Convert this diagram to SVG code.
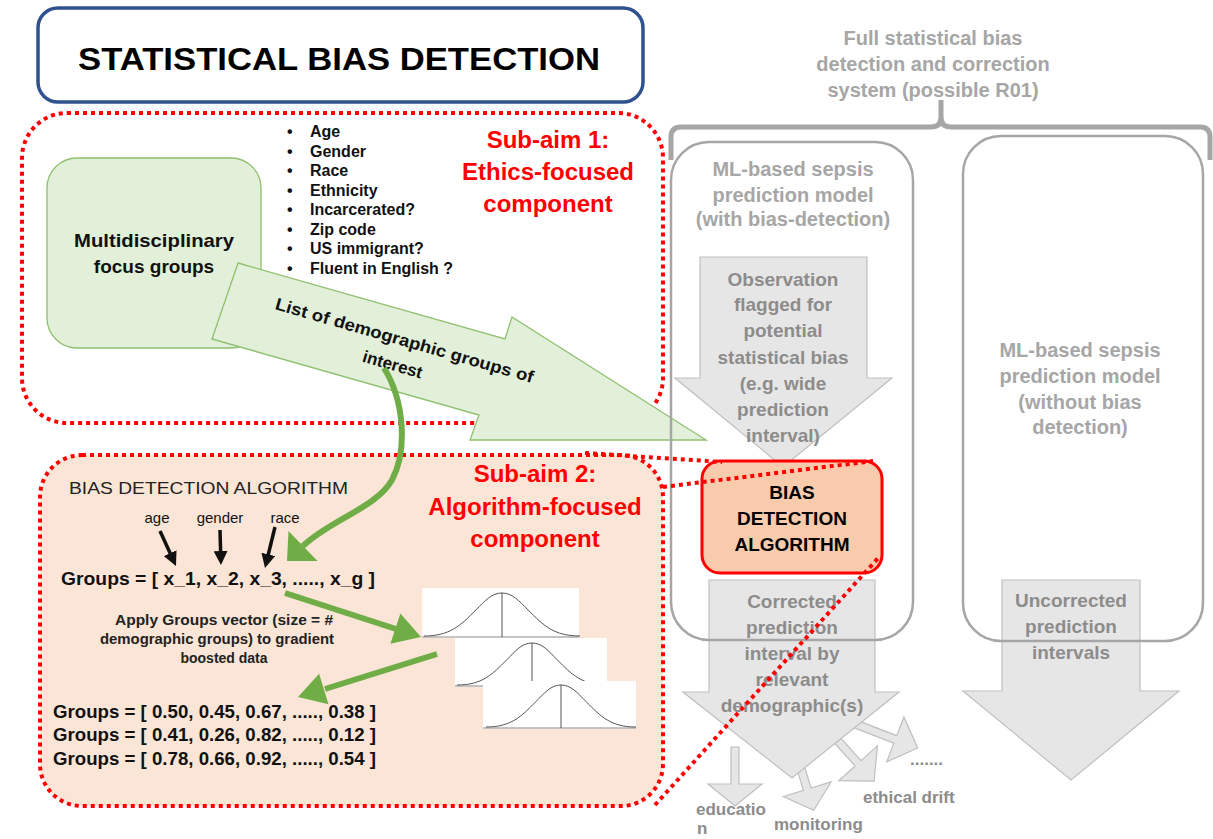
<svg xmlns="http://www.w3.org/2000/svg" width="1213" height="839" viewBox="0 0 1213 839">
<style>
text { font-family: "Liberation Sans", Arial, sans-serif; }
.bd { font-weight: bold; }
.red { fill: #ff0000; font-weight: bold; font-size: 24px; text-anchor: middle; }
.dot { fill: none; stroke: #ff0000; stroke-width: 4; stroke-dasharray: 4 4; }
.garrow { fill: #e7e6e6; stroke: #bfbfbf; stroke-width: 1.2; }
.gbox { fill: none; stroke: #a6a6a6; stroke-width: 2.5; }
.gtxt { fill: #8c8c8c; font-weight: bold; font-size: 19px; text-anchor: middle; }
.htxt { fill: #a6a6a6; font-weight: bold; font-size: 20px; text-anchor: middle; }
.small { fill: #8c8c8c; font-weight: bold; font-size: 17px; }
.green { fill: #e2f0d9; stroke: #8fbf6f; stroke-width: 1.3; }
.gline { fill: none; stroke: #70ad47; stroke-width: 6; }
.ghead { fill: #70ad47; }
.blkline { stroke: #111; stroke-width: 3.5; marker-end: url(#blkhead); }
.blt { font-size: 16px; font-weight: bold; fill: #111; }
.grp { font-size: 19px; font-weight: bold; fill: #111; }
.crect { fill: #ffffff; }
.axis { stroke: #888; stroke-width: 1; }
.vline { stroke: #555; stroke-width: 1; }
</style>
<defs>
<marker id="blkhead" viewBox="0 0 10 10" refX="3" refY="5" markerWidth="4" markerHeight="4" orient="auto" markerUnits="strokeWidth">
<path d="M0,0 L10,5 L0,10 z" fill="#111"/>
</marker>
<path id="bell" d="M-3,0 C-2,0 -1.6,-0.2425 -1,-0.6065 C-0.65,-0.819 -0.4,-1 0,-1 C0.4,-1 0.65,-0.819 1,-0.6065 C1.6,-0.2425 2,0 3,0" fill="none" stroke="#555" stroke-width="1" vector-effect="non-scaling-stroke"/>
</defs>
<rect x="0" y="0" width="1213" height="839" fill="#ffffff"/>

<g id="title">
<rect x="38" y="8" width="605" height="94" rx="20" fill="#ffffff" stroke="#2f528f" stroke-width="3.5"/>
<text x="339" y="70" class="bd" font-size="32" text-anchor="middle" textLength="522" lengthAdjust="spacingAndGlyphs" fill="#000">STATISTICAL BIAS DETECTION</text>
</g>

<g id="subaim1">
<rect x="22" y="113" width="641" height="310" rx="45" class="dot"/>
<text x="548" y="148" class="red">Sub-aim 1:</text>
<text x="548" y="180" class="red">Ethics-focused</text>
<text x="548" y="212" class="red">component</text>
</g>

<g id="subaim2">
<rect x="40" y="455" width="623" height="351" rx="42" fill="#fbe5d6" stroke="none"/>
<rect x="40" y="455" width="623" height="351" rx="42" class="dot"/>
<text x="535" y="482" class="red">Sub-aim 2:</text>
<text x="535" y="515" class="red">Algorithm-focused</text>
<text x="535" y="547" class="red">component</text>
</g>

<g id="focus-groups">
<rect x="47" y="158" width="214" height="190" rx="30" class="green"/>
<text x="154" y="247" class="bd" font-size="19" text-anchor="middle" textLength="160" lengthAdjust="spacingAndGlyphs" fill="#111">Multidisciplinary</text>
<text x="154" y="273" class="bd" font-size="19" text-anchor="middle" fill="#111">focus groups</text>
</g>

<g id="bullets">
<text x="287" y="137" class="blt">•</text><text x="310" y="137" class="blt">Age</text>
<text x="287" y="157" class="blt">•</text><text x="310" y="157" class="blt">Gender</text>
<text x="287" y="176" class="blt">•</text><text x="310" y="176" class="blt">Race</text>
<text x="287" y="196" class="blt">•</text><text x="310" y="196" class="blt">Ethnicity</text>
<text x="287" y="215" class="blt">•</text><text x="310" y="215" class="blt">Incarcerated?</text>
<text x="287" y="235" class="blt">•</text><text x="310" y="235" class="blt">Zip code</text>
<text x="287" y="254" class="blt">•</text><text x="310" y="254" class="blt">US immigrant?</text>
<text x="287" y="274" class="blt">•</text><text x="310" y="274" class="blt">Fluent in English ?</text>
</g>

<g id="list-arrow">
<polygon points="238,263 505,339 512,317 706,440 470,440 479,415 212,339" class="green"/>
<text x="403" y="346" transform="rotate(16 403 346)" class="bd" font-size="17" text-anchor="middle" textLength="268" lengthAdjust="spacingAndGlyphs" fill="#111">List of demographic groups  of</text>
<text x="391" y="370" transform="rotate(16 391 370)" class="bd" font-size="17" text-anchor="middle" fill="#111">interest</text>
</g>

<g id="observation-arrow">
<polygon points="700,257 867,257 867,378 892,378 783,467 675,378 700,378" class="garrow"/>
<text x="783" y="286" class="gtxt">Observation</text>
<text x="783" y="311" class="gtxt">flagged for</text>
<text x="783" y="337" class="gtxt">potential</text>
<text x="783" y="364" class="gtxt">statistical bias</text>
<text x="783" y="390" class="gtxt">(e.g. wide</text>
<text x="783" y="416" class="gtxt">prediction</text>
<text x="783" y="442" class="gtxt">interval)</text>
</g>

<g id="bias-box">
<rect x="702" y="461" width="180" height="112" rx="18" fill="#f8cbad" stroke="#ff0000" stroke-width="3"/>
<text x="792" y="499" class="bd" font-size="19" text-anchor="middle" fill="#000">BIAS</text>
<text x="792" y="525" class="bd" font-size="19" text-anchor="middle" fill="#000">DETECTION</text>
<text x="792" y="551" class="bd" font-size="19" text-anchor="middle" fill="#000">ALGORITHM</text>
</g>

<g id="outcome-arrows">
<polygon transform="translate(858,725) rotate(21)" points="-6,-4 40,-4 40,-24 64,0 40,24 40,4 -6,4" class="garrow"/>
<polygon transform="translate(838,741) rotate(48)" points="-6,-4 30,-4 30,-26 54,0 30,26 30,4 -6,4" class="garrow"/>
<polygon transform="translate(802,772) rotate(73)" points="-6,-4 18,-4 18,-25 40,0 18,25 18,4 -6,4" class="garrow"/>
<polygon points="731,747 739,747 739,784 762,784 735,806 708,784 731,784" class="garrow"/>
<text x="910" y="765" class="small">.......</text>
<text x="863" y="803" class="small">ethical drift</text>
<text x="774" y="830" class="small">monitoring</text>
<text class="small" font-size="15"><tspan x="696" y="815">educatio</tspan><tspan x="697" y="834">n</tspan></text>
</g>

<g id="corrected-arrow">
<polygon points="709,580 875,580 875,692 899,692 792,778 683,692 709,692" class="garrow"/>
<text x="792" y="608" class="gtxt">Corrected</text>
<text x="792" y="634" class="gtxt">prediction</text>
<text x="792" y="660" class="gtxt">interval by</text>
<text x="792" y="686" class="gtxt">relevant</text>
<text x="792" y="712" class="gtxt">demographic(s)</text>
</g>

<g id="uncorrected-arrow">
<polygon points="1002,580 1140,580 1140,691 1179,691 1071,780 963,691 1002,691" class="garrow"/>
<text x="1071" y="607" class="gtxt">Uncorrected</text>
<text x="1071" y="633" class="gtxt">prediction</text>
<text x="1071" y="659" class="gtxt">intervals</text>
</g>

<g id="with-bias-box">
<rect x="671" y="142" width="242" height="498" rx="38" class="gbox"/>
<text x="793" y="176" class="htxt">ML-based sepsis</text>
<text x="793" y="202" class="htxt">prediction model</text>
<text x="793" y="226" class="htxt">(with bias-detection)</text>
</g>

<g id="without-bias-box">
<rect x="963" y="136" width="240" height="505" rx="38" class="gbox"/>
<text x="1080" y="357" class="htxt" font-size="17">ML-based sepsis</text>
<text x="1080" y="383" class="htxt" font-size="17">prediction model</text>
<text x="1080" y="409" class="htxt" font-size="17">(without bias</text>
<text x="1080" y="434" class="htxt" font-size="17">detection)</text>
</g>

<g id="full-system">
<path d="M671,160 L671,137 Q671,127 681,127 L931,127 Q941,127 941,117 L941,100 M941,117 Q941,127 951,127 L1200,127 Q1210,127 1210,137 L1210,160" fill="none" stroke="#a6a6a6" stroke-width="5"/>
<text x="933" y="45" class="htxt">Full statistical bias</text>
<text x="933" y="71" class="htxt">detection and correction</text>
<text x="933" y="97" class="htxt">system (possible R01)</text>
</g>

<g id="algorithm-detail">
<text x="69" y="494" font-size="17" fill="#222" textLength="279" lengthAdjust="spacingAndGlyphs">BIAS DETECTION ALGORITHM</text>
<text x="157" y="523" font-size="15" fill="#111" text-anchor="middle">age</text>
<text x="220" y="523" font-size="15" fill="#111" text-anchor="middle">gender</text>
<text x="285" y="523" font-size="15" fill="#111" text-anchor="middle">race</text>
<line x1="160" y1="531" x2="171.9" y2="557.1" class="blkline"/>
<line x1="220" y1="530" x2="220.7" y2="555.2" class="blkline"/>
<line x1="275" y1="527" x2="267.3" y2="558.5" class="blkline"/>
<text x="61" y="585" class="grp" textLength="314" lengthAdjust="spacingAndGlyphs">Groups = [ x_1, x_2, x_3, ....., x_g ]</text>
<text x="224" y="625" class="bd" font-size="14" fill="#222" text-anchor="middle" textLength="218" lengthAdjust="spacingAndGlyphs">Apply Groups vector (size = #</text>
<text x="217" y="644" class="bd" font-size="14" fill="#222" text-anchor="middle" textLength="234" lengthAdjust="spacingAndGlyphs">demographic groups) to gradient</text>
<text x="224" y="663" class="bd" font-size="14" fill="#222" text-anchor="middle">boosted data</text>
<text x="53" y="718" class="grp" textLength="323" lengthAdjust="spacingAndGlyphs">Groups = [ 0.50, 0.45, 0.67, ....., 0.38 ]</text>
<text x="53" y="741" class="grp" textLength="323" lengthAdjust="spacingAndGlyphs">Groups = [ 0.41, 0.26, 0.82, ....., 0.12 ]</text>
<text x="53" y="765" class="grp" textLength="323" lengthAdjust="spacingAndGlyphs">Groups = [ 0.78, 0.66, 0.92, ....., 0.54 ]</text>
</g>

<g id="distributions">
<rect x="422" y="588" width="157" height="50" class="crect"/>
<line x1="422" y1="637" x2="579" y2="637" class="axis"/>
<use href="#bell" transform="translate(502,636) scale(26,43)"/>
<line x1="502" y1="593" x2="502" y2="637" class="vline"/>
<rect x="455" y="638" width="152" height="49" class="crect"/>
<line x1="455" y1="686" x2="607" y2="686" class="axis"/>
<use href="#bell" transform="translate(532,685) scale(25,42)"/>
<line x1="532" y1="643" x2="532" y2="686" class="vline"/>
<rect x="483" y="681" width="153" height="48" class="crect"/>
<line x1="483" y1="728" x2="636" y2="728" class="axis"/>
<use href="#bell" transform="translate(561,727) scale(25,42)"/>
<line x1="561" y1="685" x2="561" y2="728" class="vline"/>
</g>

<g id="connectors">
<path d="M384,368 C404,400 408,450 392,480 C376,508 330,520 303,546" class="gline" stroke-width="5"/>
<polygon points="287,561 317.5,561 288.5,531" class="ghead"/>
<line x1="285" y1="593" x2="396" y2="629" class="gline"/>
<polygon points="421,637 390.4,643.8 400.4,613.4" class="ghead"/>
<line x1="437" y1="654" x2="325" y2="689" class="gline"/>
<polygon points="298,697 328.5,704.3 319.1,673.7" class="ghead"/>
<line x1="585" y1="453" x2="722" y2="462" class="dot"/>
<line x1="663" y1="487" x2="873" y2="461" class="dot"/>
<line x1="655" y1="805" x2="880" y2="556" class="dot"/>
</g>
</svg>
